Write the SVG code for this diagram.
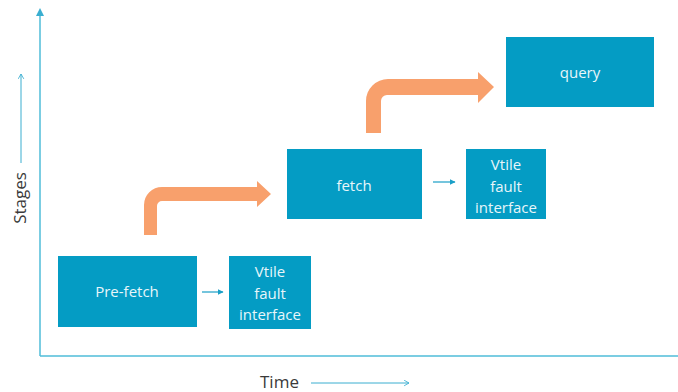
<svg xmlns="http://www.w3.org/2000/svg" width="678" height="392" viewBox="0 0 678 392">
  <style>
    .box { fill: #049cc4; }
    .lbl { font-family: "Open Sans", "Noto Sans", sans-serif; font-size: 15px; fill: #e8f6fa; text-anchor: middle; }
    .axis { stroke: #4fbdd8; stroke-width: 1.5; fill: none; }
    .hint { stroke: #3aaed0; stroke-width: 1; fill: none; }
    .axlbl { font-family: "Open Sans", "Noto Sans", sans-serif; font-size: 17px; fill: #3a3a3a; }
    .step { fill: #f8a06c; }
    .link { stroke: #1a9fc7; stroke-width: 1.2; fill: none; }
  </style>
  <defs>
    <marker id="tri" viewBox="0 0 10 10" refX="9" refY="5" markerWidth="5" markerHeight="5" orient="auto">
      <path d="M0,0 L10,5 L0,10 Z" fill="#1a9fc7"/>
    </marker>
    <marker id="chev" viewBox="0 0 10 10" refX="9" refY="5" markerWidth="7" markerHeight="7" orient="auto" markerUnits="userSpaceOnUse">
      <path d="M2,1 L9,5 L2,9" fill="none" stroke="#3aaed0" stroke-width="1.2"/>
    </marker>
  </defs>

  <!-- axes -->
  <g id="axes">
    <path class="axis" d="M40,356 V14"/>
    <path d="M36,16 L40,8 L44,16 Z" fill="#3aaed0"/>
    <path class="axis" d="M40,356 H678"/>
    <path class="hint" d="M21,163 V74" marker-end="url(#chev)"/>
    <text class="axlbl" transform="translate(26,198) rotate(-90)" text-anchor="middle">Stages</text>
    <text class="axlbl" x="260" y="388">Time</text>
    <path class="hint" d="M311,383 H409" marker-end="url(#chev)"/>
  </g>

  <!-- step arrows -->
  <g id="connectors">
    <path class="step" d="M144,235 V205 A18,18 0 0 1 162,187 H257 V181 L271,194 L257,207 V201 H162 A5,5 0 0 0 157,206 V235 Z"/>
    <path class="step" d="M366,133 V101 A22,22 0 0 1 388,79 H478 V72 L494,87 L478,103 V95 H387 A6,6 0 0 0 381,101 V133 Z"/>
    <path class="link" d="M202,292 H223" marker-end="url(#tri)"/>
    <path class="link" d="M433,182 H455" marker-end="url(#tri)"/>
  </g>

  <g id="prefetch">
    <rect class="box" x="58" y="256" width="139" height="71"/>
    <text class="lbl" x="127" y="297">Pre-fetch</text>
  </g>

  <g id="vtile1">
    <rect class="box" x="229" y="256" width="82" height="73"/>
    <text class="lbl" x="270" y="277">Vtile</text>
    <text class="lbl" x="270" y="299">fault</text>
    <text class="lbl" x="270" y="320">interface</text>
  </g>

  <g id="fetch">
    <rect class="box" x="287" y="149" width="135" height="70"/>
    <text class="lbl" x="354" y="191">fetch</text>
  </g>

  <g id="vtile2">
    <rect class="box" x="466" y="149" width="80" height="70"/>
    <text class="lbl" x="506" y="170">Vtile</text>
    <text class="lbl" x="506" y="192">fault</text>
    <text class="lbl" x="506" y="213">interface</text>
  </g>

  <g id="query">
    <rect class="box" x="506" y="37" width="148" height="70"/>
    <text class="lbl" x="580" y="78">query</text>
  </g>
</svg>
